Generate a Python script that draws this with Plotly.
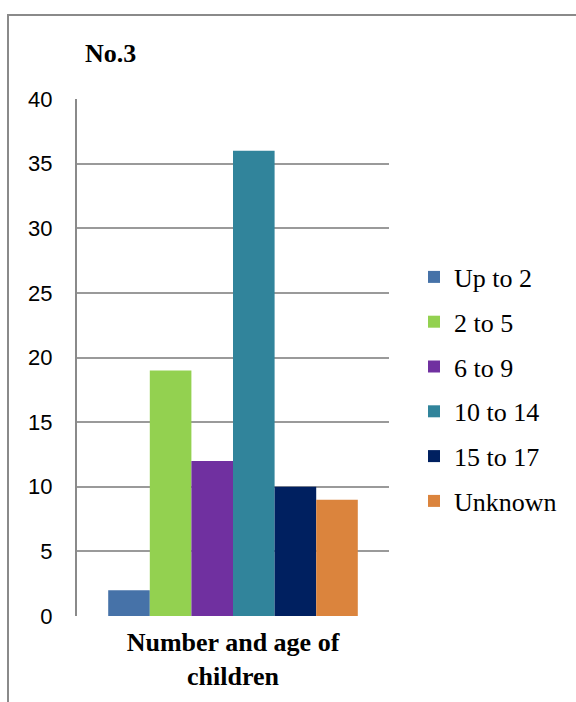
import plotly.graph_objects as go

# Children counts by age band
category = ["Number and age of<br>children"]
age_groups = ["Up to 2", "2 to 5", "6 to 9", "10 to 14", "15 to 17", "Unknown"]
counts = [2, 19, 12, 36, 10, 9]
colors = ["#4672A8", "#93D150", "#7030A0", "#31849B", "#002060", "#DB843D"]
y_ticks = [0, 5, 10, 15, 20, 25, 30, 35, 40]

W, H = 576, 702
L, R, T, B = 77, 187, 99, 86
pw, ph = W - L - R, H - T - B

fig = go.Figure()
for name, val, col in zip(age_groups, counts, colors):
    fig.add_trace(go.Bar(
        x=category, y=[val], name=name, legendgroup=name,
        marker=dict(color=col, line=dict(width=0)),
    ))

# Outer chart frame (extends past the right and bottom edges)
def px_x(p):
    return (p - L) / pw

def px_y(p):
    return (H - B - p) / ph

fig.add_shape(type="rect", xref="paper", yref="paper",
              x0=px_x(8), x1=px_x(600), y0=px_y(720), y1=px_y(15),
              line=dict(color="#8a8a8a", width=2), fillcolor="rgba(0,0,0,0)",
              layer="below")

fig.update_layout(
    width=W, height=H,
    margin=dict(l=L, r=R, t=T, b=B, autoexpand=False),
    paper_bgcolor="white", plot_bgcolor="white",
    barmode="group", bargap=0.2, bargroupgap=0,
    title=dict(text="<b>No.3</b>", xref="container", yref="container",
               x=85 / W, xanchor="left", y=1 - 53 / H, yanchor="middle",
               font=dict(family="Liberation Serif", size=26, color="black")),
    legend=dict(x=px_x(414), xanchor="left", y=px_y(389), yanchor="middle",
                font=dict(family="Liberation Serif", size=26, color="black"),
                tracegroupgap=8, bgcolor="rgba(0,0,0,0)"),
    xaxis=dict(showgrid=False, showline=False, zeroline=False, automargin=False,
               ticks="", ticklabelstandoff=8,
               tickfont=dict(family="Liberation Serif", size=26, color="black",
                             weight="bold")),
    yaxis=dict(range=[0, 40], tickvals=y_ticks, showgrid=True, automargin=False,
               gridcolor="#9a9a9a", gridwidth=2, zeroline=False,
               showline=True, linecolor="#8a8a8a", linewidth=2,
               ticks="", ticklabelstandoff=18,
               tickfont=dict(family="Liberation Sans", size=22, color="black")),
)

fig.write_html("out.html")
